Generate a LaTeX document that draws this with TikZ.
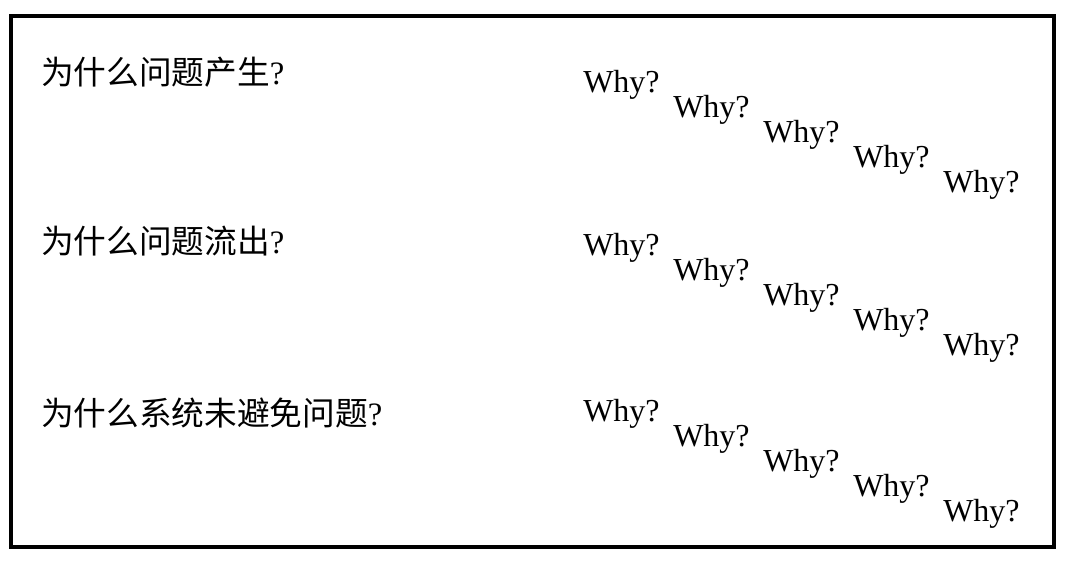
\documentclass[tikz,border=0pt]{standalone}
\usepackage{fontspec}
\setmainfont{Liberation Serif}
\newfontfamily\cjk{Noto Sans CJK SC}
\usepackage{tikz}
\usetikzlibrary{positioning}

\begin{document}
\begin{tikzpicture}[x=0.75pt,y=-0.75pt]
        \tikzset{
          rahmen/.style={draw=black,line width=3pt},
          frage/.style={anchor=base west,inner sep=0pt,
            font=\fontsize{24.5}{30}\selectfont},
          warum/.style={anchor=base west,inner sep=0pt,
            font=\fontsize{24}{28}\selectfont},
          }
        \useasboundingbox (0,0) rectangle (1068,562);
        \draw[rahmen] (11,16) rectangle (1054,547);

        % Fragen links
        \node[frage] (f1) at (41,84)  {{\cjk 为什么问题产生}?};
        \node[frage] (f2) at (41,253) {{\cjk 为什么问题流出}?};
        \node[frage] (f3) at (41,425) {{\cjk 为什么系统未避免问题}?};

        % erste Reihe
        \node[warum] (w11) at (583,92)  {Why?};
        \node[warum] (w12) at (673,117) {Why?};
        \node[warum] (w13) at (763,142) {Why?};
        \node[warum] (w14) at (853,167) {Why?};
        \node[warum] (w15) at (943,192) {Why?};
        % zweite Reihe
        \node[warum] (w21) at (583,255) {Why?};
        \node[warum] (w22) at (673,280) {Why?};
        \node[warum] (w23) at (763,305) {Why?};
        \node[warum] (w24) at (853,330) {Why?};
        \node[warum] (w25) at (943,355) {Why?};
        % dritte Reihe
        \node[warum] (w31) at (583,421) {Why?};
        \node[warum] (w32) at (673,446) {Why?};
        \node[warum] (w33) at (763,471) {Why?};
        \node[warum] (w34) at (853,496) {Why?};
        \node[warum] (w35) at (943,521) {Why?};
      \end{tikzpicture}
\end{document}
